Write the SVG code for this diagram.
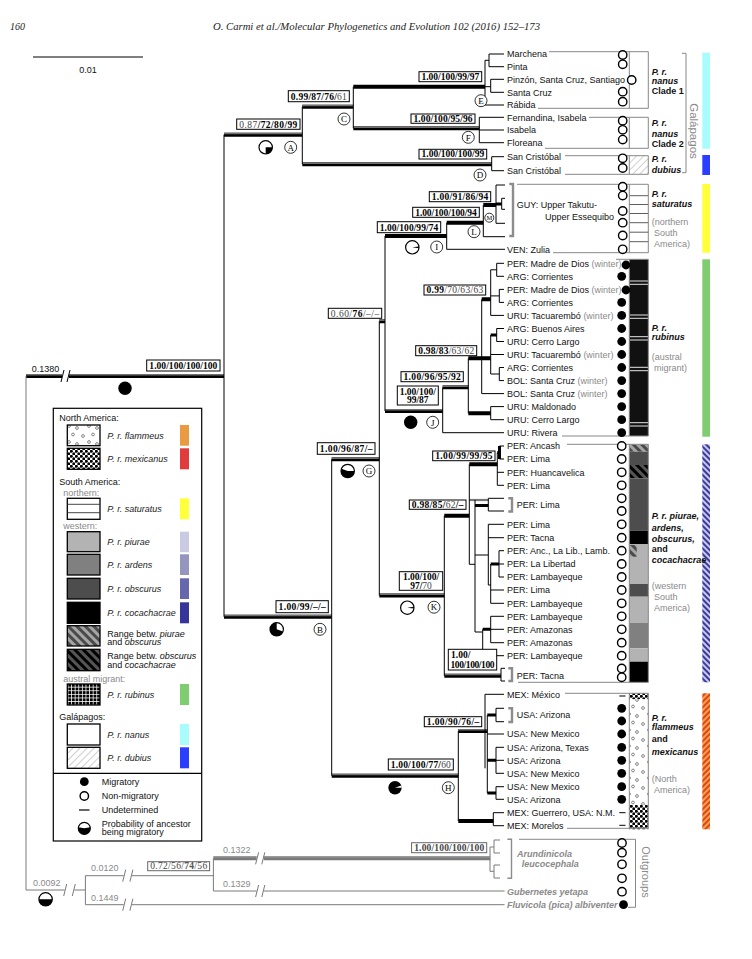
<svg xmlns="http://www.w3.org/2000/svg" width="752" height="959" viewBox="0 0 752 959">
<defs>
<style>
text{font-family:"Liberation Sans",Arial,sans-serif}
.t{font-size:9px;fill:#111}
.g{fill:#8a8a8a}
.sp{font-family:"Liberation Serif","Times New Roman",serif;font-size:9.5px;font-weight:bold;fill:#000}
.n{font-weight:normal;fill:#444}
.bx{fill:#fff;stroke:#000;stroke-width:1}
.bxg{fill:#fff;stroke:#666;stroke-width:1}
.bl{stroke:#000;stroke-width:1;fill:none}
.tk{stroke:#000;stroke-width:4;fill:none}
.tk3{stroke:#000;stroke-width:3;fill:none}
.tg{stroke:#707070;stroke-width:1.6;fill:none}
.gl{stroke:#7a7a7a;stroke-width:1;fill:none}
.gb{stroke:#8c8c8c;stroke-width:2.4;fill:none}
.bxl{stroke:#888;stroke-width:1;fill:none}
.oc{fill:#fff;stroke:#000;stroke-width:1.4}
.lc{fill:#fff;stroke:#000;stroke-width:0.8}
.lt{font-family:"Liberation Serif","Times New Roman",serif;font-size:9px;fill:#000;text-anchor:middle}
.cl{font-size:9px;font-weight:bold;font-style:italic;fill:#111}
.cb{font-size:9px;font-weight:bold;fill:#111}
.li{font-size:9px;font-style:italic;fill:#222}
.sw{stroke:#000;stroke-width:1.3}
.hd{font-family:"Liberation Serif","Times New Roman",serif;font-style:italic;font-size:10px;fill:#222}
</style>
<pattern id="pFlam" width="20" height="16" patternUnits="userSpaceOnUse">
<rect width="20" height="16" fill="#fff"/>
<g fill="none" stroke="#555" stroke-width="0.7"><circle cx="3" cy="4" r="1.4"/><circle cx="13" cy="2.5" r="1.4"/><circle cx="9" cy="10" r="1.4"/><circle cx="17" cy="12" r="1.4"/></g>
</pattern>
<pattern id="pMex" width="5" height="5" patternUnits="userSpaceOnUse">
<rect width="5" height="5" fill="#fff"/><circle cx="1.3" cy="1.3" r="1.5" fill="#000"/><circle cx="3.8" cy="3.8" r="1.5" fill="#000"/>
</pattern>
<pattern id="pRub" width="3.6" height="3.6" patternUnits="userSpaceOnUse">
<rect width="3.6" height="3.6" fill="#000"/><path d="M0 3.2H3.6M3.2 0V3.6" stroke="#fff" stroke-width="0.8"/>
</pattern>
<pattern id="pH1" width="6" height="6" patternUnits="userSpaceOnUse" patternTransform="rotate(-45)">
<rect width="6" height="6" fill="#a5a5a5"/><rect width="3" height="6" fill="#4a4a4a"/>
</pattern>
<pattern id="pH2" width="6" height="6" patternUnits="userSpaceOnUse" patternTransform="rotate(-45)">
<rect width="6" height="6" fill="#555"/><rect width="3" height="6" fill="#000"/>
</pattern>
<pattern id="pDub" width="5" height="5" patternUnits="userSpaceOnUse" patternTransform="rotate(45)">
<rect width="5" height="5" fill="#fff"/><path d="M0 0V5" stroke="#777" stroke-width="0.7"/>
</pattern>
<pattern id="pPur" width="4" height="4" patternUnits="userSpaceOnUse" patternTransform="rotate(-45)">
<rect width="4" height="4" fill="#c8c8ea"/><rect width="2" height="4" fill="#3a3a9e"/>
</pattern>
<pattern id="pOra" width="4" height="4" patternUnits="userSpaceOnUse" patternTransform="rotate(45)">
<rect width="4" height="4" fill="#f4a638"/><rect width="2" height="4" fill="#e2402c"/>
</pattern>
</defs>
<rect width="752" height="959" fill="#fff"/>

<g id="header">
<text class="hd" x="10" y="30">160</text>
<text class="hd" x="213" y="30" textLength="327" lengthAdjust="spacingAndGlyphs">O. Carmi et al./Molecular Phylogenetics and Evolution 102 (2016) 152–173</text>
</g>
<g id="scale">
<path d="M33 57H143" class="bl"/>
<text class="t" x="88" y="73" text-anchor="middle">0.01</text>
</g>

<g id="connectors">
<path class="tk" d="M26 376H62M69 376H224M224 134.7H302.3M302.3 106.7H353.3M353.3 86.7H485M353.3 128.3H479.3M302.3 164.3H491.7M224 616.7H331.7M331.7 459.3H379.3M379.3 321.3H385M385 236H446.7M446.7 222.7H483.3M483.3 205H496M385 411H442.7M442.7 387.3H468.3M468.3 358.3H490.7M481.7 299.3H490.7M468.3 413.3H490.7M379.3 595.5H444.3M444.3 515.7H469.3M469.3 464.3H497.3M444.3 675.7H501M331.7 775.7H458.3M458.3 731H487.3M458.3 821H493.3"/>
<path class="tk3" d="M496 204H501.7M490.7 335H496.7M497.3 452.5H499.5M475 505.5H488.3M490.7 564H499M482.7 629.3H490.7M487.3 715H496M487.3 760.3H496M487.3 793H496M499.5 446V459"/>
<path class="tg" d="M26 374.8H62M69 374.8H224M224 133.5H302.3M302.3 105.5H353.3M353.3 127.1H479.3M302.3 163.1H491.7M224 615.5H331.7M331.7 458.1H379.3M379.3 320.1H385M385 409.8H442.7M442.7 386.1H468.3M379.3 594.3H444.3M444.3 674.5H501M331.7 774.5H458.3M458.3 729.8H487.3"/>
<path d="M469.3 500H488.3" stroke="#777" stroke-width="2.2"/>
<path class="bl" d="M61 382L64 370M67 382L70 370"/>
<path class="bl" d="M224 134.7V616.7M302.3 106.7V164.3M353.3 86.7V128.3M485 60.3V105M489 54V66.7M490.7 79.3V92.3M479.3 117.3V142.7M491.7 156.7V170.7M331.7 459.3V775.7M379.3 321.3V595.5M385 236V411M446.7 222.7V249.3M483.3 205V236.7M496 185V223.3M501.7 198.3V209.3M442.7 387.3V432.7M468.3 358.3V413.3M481.7 299.3V393.6M490.7 269.8V315.4M496.7 263.3V276.3M499.3 289.4V302.4M490.7 335V374M496.7 328.5V341.5M499.3 367.5V380.6M490.7 406.6V419.7M444.3 515.7V675.7M469.3 464.3V564.3M497.3 452.5V485.3M475 500V632M488.3 498.3V511M488.3 524.3V585M490.7 564V603.3M499 550.7V577M482.7 629.3V655.7M490.7 616.3V642.7M501 668.3V681M458.3 731V821M485 694.3V768.3M487.3 715V793M496 708.3V721.7M496 747.3V773.3M496 786.7V799.3M493.3 812.7V825.7"/>
<path class="bl" d="M485 60.3H489M489 54H504M489 66.7H504M485 86.7H490.7M490.7 79.3H504M490.7 92.3H504M485 105H504M479.3 117.3H504M479.3 130H504M479.3 142.7H504M491.7 156.7H504M491.7 170.7H504M496 185H505M501.7 198.3H505M501.7 209.3H505M496 223.3H505M483.3 236.7H505M446.7 249.3H505M490.7 269.8H496.7M496.7 263.3H504M496.7 276.3H504M490.7 295.9H499.3M499.3 289.4H504M499.3 302.4H504M490.7 315.4H504M496.7 328.5H504M496.7 341.5H504M490.7 354.5H504M490.7 374H499.3M499.3 367.5H504M499.3 380.6H504M481.7 393.6H504M490.7 406.6H504M490.7 419.7H504M442.7 432.7H504M499.5 446H504M499.5 459H504M497.3 472.3H504M497.3 485.3H504M488.3 498.3H504M488.3 511H504M469.3 564.3H475M475 555H488.3M488.3 524.3H504M488.3 537.7H504M488.3 585H490.7M499 550.7H504M499 564H504M499 577H504M490.7 590H504M490.7 603.3H504M475 632H482.7M490.7 616.3H504M490.7 629.3H504M490.7 642.7H504M482.7 655.7H504M501 668.3H505M501 681H505M485 694.3H504M496 708.3H504M496 721.7H504M487.3 734H504M496 747.3H504M496 760.3H504M496 773.3H504M496 786.7H504M496 799.3H504M493.3 812.7H504M493.3 825.7H504"/>
<path class="gl" d="M26 376V890M26 890H64.7M74.3 890H85.4M85.4 875.7V904.7M85.4 875.7H123.7M131.9 875.7H213.4M213.4 858.3V891M213.4 891H256.6M263.8 891H504.6M85.4 904.7H123.7M131.9 904.7H504.6M490 847V871.3M490 847H494M494 840V853M494 840H500M494 853H500M490 871.3H494M494 865V878M494 865H500M494 878H500"/>
<path d="M213.4 858.3H256.6M263.8 858.3H490.2" stroke="#7a7a7a" stroke-width="4" fill="none"/>
<path d="M213.4 857H256.6M263.8 857H490.2" stroke="#9a9a9a" stroke-width="1.2" fill="none"/>
<path class="gl" d="M63.7 896L66.7 884M72.3 896L75.3 884M122.7 881.7L125.7 869.7M129.9 881.7L132.9 869.7M122.7 910.7L125.7 898.7M129.9 910.7L132.9 898.7M255.6 864.3L258.6 852.3M261.8 864.3L264.8 852.3M255.6 897L258.6 885M261.8 897L264.8 885"/>
<path class="gb" d="M509.3 184H513V236H509.3M508.3 498.3H512V511.5H508.3M508.3 668.3H512V681H508.3M508.3 708.3H512V722H508.3"/>
<path d="M507.4 839.3H511.5V878.3H507.4" stroke="#8c8c8c" stroke-width="1.4" fill="none"/>
</g>

<g id="columns">
<rect x="629.3" y="51.7" width="19" height="56.6" fill="#fff"/>
<rect x="629.3" y="117.3" width="19" height="31" fill="#fff"/>
<rect x="629.3" y="155.7" width="19" height="18.6" fill="url(#pDub)"/>
<rect x="629.3" y="184.3" width="19" height="68.4" fill="#fff"/>
<path d="M629.3 195.7H648.3M629.3 204.5H648.3M629.3 213.5H648.3M629.3 222.7H648.3M629.3 232.2H648.3M629.3 241.7H648.3" stroke="#333" stroke-width="0.8"/>
<rect x="629.3" y="259.3" width="19" height="176.7" fill="#111"/>
<path d="M630 281H648M630 284.3H648M630 315H648M630 318.3H648M630 336.7H648M630 340H648M630 367.3H648M630 370.7H648M630 422.7H648M630 426H648" stroke="#fff" stroke-width="0.9"/>
<rect x="629.3" y="444.3" width="19" height="7.4" fill="url(#pH1)"/>
<rect x="629.3" y="451.7" width="19" height="13.3" fill="#4d4d4d"/>
<rect x="629.3" y="465" width="19" height="13.3" fill="url(#pH2)"/>
<rect x="629.3" y="478.3" width="19" height="52.4" fill="#4d4d4d"/>
<rect x="629.3" y="530.7" width="19" height="13.3" fill="#000"/>
<rect x="629.3" y="544" width="19" height="40" fill="#b3b3b3"/>
<rect x="629.3" y="545" width="7.4" height="11.7" fill="url(#pH1)"/>
<rect x="629.3" y="584" width="19" height="12.7" fill="#4d4d4d"/>
<rect x="629.3" y="596.7" width="19" height="26" fill="#b3b3b3"/>
<rect x="629.3" y="622.7" width="19" height="25.6" fill="#808080"/>
<rect x="629.3" y="648.3" width="19" height="13.4" fill="#b3b3b3"/>
<rect x="629.3" y="661.7" width="19" height="20.6" fill="#000"/>
<rect x="629.3" y="693.3" width="19" height="6" fill="url(#pMex)"/>
<rect x="629.3" y="699.3" width="19" height="105.7" fill="url(#pFlam)"/>
<rect x="629.3" y="805" width="19" height="24.3" fill="url(#pMex)"/>
<path class="bxl" d="M549 51.7H648.3V108.3H538M629.3 51.7V108.3M589 117.3H648.3V148.3H545M629.3 117.3V148.3M565 155.7H648.3V174.3H565M629.3 155.7V174.3M517 184.3H648.3V252.7H553M629.3 184.3V252.7M616 259.3H648.3V436H562M629.3 259.3V436M567 444.3H648.3V682.3H518M629.3 444.3V682.3M565 693.3H648.3V828.3H567M629.3 693.3V828.3M519 839.3H635.5V907.3H628"/>
<path class="bxl" d="M682 53.3H686V172.7H682"/>
</g>

<g id="bars">
<rect x="702.3" y="52.7" width="7.7" height="96" fill="#a8fcfc"/>
<rect x="702.3" y="155" width="7.7" height="20" fill="#2b3dff"/>
<rect x="702.3" y="184" width="7.7" height="68.7" fill="#ffff3a"/>
<rect x="702.3" y="259.3" width="7.7" height="177.4" fill="#80cc70"/>
<rect x="702.3" y="444.3" width="7.7" height="238" fill="url(#pPur)"/>
<rect x="702.3" y="693.3" width="7.7" height="136" fill="url(#pOra)"/>
</g>

<g id="clade-labels">
<text class="cl" x="651.7" y="74.9">P. r.</text><text class="cl" x="651.7" y="84.2">nanus</text><text class="cb" x="651.7" y="94">Clade 1</text>
<text class="cl" x="651.7" y="126">P. r.</text><text class="cl" x="651.7" y="136.5">nanus</text><text class="cb" x="651.7" y="146.5">Clade 2</text>
<text class="cl" x="651.7" y="162.2">P. r.</text><text class="cl" x="651.7" y="173.2">dubius</text>
<text class="cl" x="651.7" y="197.2">P. r.</text><text class="cl" x="651.7" y="207.2">saturatus</text>
<text class="t g" x="651.7" y="225.2">(northern</text><text class="t g" x="654" y="236">South</text><text class="t g" x="654" y="246.5">America)</text>
<text class="cl" x="651.7" y="330.5">P. r.</text><text class="cl" x="651.7" y="340">rubinus</text>
<text class="t g" x="651.7" y="360">(austral</text><text class="t g" x="654" y="370.5">migrant)</text>
<text class="cl" x="651.7" y="519.2">P. r. piurae,</text><text class="cl" x="651.7" y="530.5">ardens,</text><text class="cl" x="651.7" y="542.2">obscurus,</text><text class="cb" x="651.7" y="552.4">and</text><text class="cl" x="651.7" y="563.4">cocachacrae</text>
<text class="t g" x="651.7" y="589.2">(western</text><text class="t g" x="654" y="600">South</text><text class="t g" x="654" y="611">America)</text>
<text class="cl" x="651.7" y="720.5">P. r.</text><text class="cl" x="651.7" y="730">flammeus</text><text class="cb" x="651.7" y="742.2">and</text><text class="cl" x="651.7" y="755">mexicanus</text>
<text class="t g" x="651.7" y="782.2">(North</text><text class="t g" x="654" y="793.2">America)</text>
<text transform="translate(689.5 131) rotate(90)" text-anchor="middle" font-size="11.5" fill="#8a8a8a">Galápagos</text>
<text transform="translate(642 872) rotate(90)" text-anchor="middle" font-size="11" fill="#8a8a8a">Outgroups</text>
</g>

<g id="tips-galapagos">
<g id="tip-marchena"><text class="t" x="507" y="57.2">Marchena</text><circle class="oc" cx="622.7" cy="55" r="4.2"/></g>
<g id="tip-pinta"><text class="t" x="507" y="69.9">Pinta</text><circle class="oc" cx="622.7" cy="64.3" r="4.2"/></g>
<g id="tip-pinzon"><text class="t" x="507" y="82.5">Pinzón, Santa Cruz, Santiago</text><circle class="oc" cx="631.7" cy="80" r="4.2"/></g>
<g id="tip-santacruz"><text class="t" x="507" y="95.5">Santa Cruz</text><circle class="oc" cx="622.7" cy="91.7" r="4.2"/></g>
<g id="tip-rabida"><text class="t" x="507" y="108.2">Rábida</text><circle class="oc" cx="622.7" cy="101.7" r="4.2"/></g>
<g id="tip-fernandina"><text class="t" x="507" y="120.5">Fernandina, Isabela</text><circle class="oc" cx="622.7" cy="120.7" r="4.2"/></g>
<g id="tip-isabela"><text class="t" x="507" y="133.2">Isabela</text><circle class="oc" cx="622.7" cy="129.8" r="4.2"/></g>
<g id="tip-floreana"><text class="t" x="507" y="145.9">Floreana</text><circle class="oc" cx="622.7" cy="139.6" r="4.2"/></g>
<g id="tip-sancristobal1"><text class="t" x="507" y="159.9">San Cristóbal</text><circle class="oc" cx="622.7" cy="158.3" r="4.2"/></g>
<g id="tip-sancristobal2"><text class="t" x="507" y="173.9">San Cristóbal</text><circle class="oc" cx="622.7" cy="168" r="4.2"/></g>
</g>

<g id="tips-saturatus">
<g id="tip-guy"><text class="t" x="516.7" y="208.2">GUY: Upper Takutu-</text><text class="t" x="545" y="219.5">Upper Essequibo</text>
<circle class="oc" cx="622.7" cy="186.7" r="4.2"/><circle class="oc" cx="622.7" cy="195.6" r="4.2"/><circle class="oc" cx="622.7" cy="211" r="4.2"/><circle class="oc" cx="622.7" cy="222.7" r="4.2"/><circle class="oc" cx="622.7" cy="235.5" r="4.2"/></g>
<g id="tip-ven"><text class="t" x="507" y="252.5">VEN: Zulia</text><circle class="oc" cx="622.7" cy="249.3" r="4.2"/></g>
</g>

<g id="tips-rubinus">
<g id="tip-r1"><text class="t" x="507" y="266.5">PER: Madre de Dios <tspan class="g">(winter)</tspan></text><circle cx="626" cy="265" r="4.4"/></g>
<g id="tip-r2"><text class="t" x="507" y="279.5">ARG: Corrientes</text><circle cx="621.7" cy="276.3" r="4.4"/></g>
<g id="tip-r3"><text class="t" x="507" y="292.6">PER: Madre de Dios <tspan class="g">(winter)</tspan></text><circle cx="626" cy="290" r="4.4"/></g>
<g id="tip-r4"><text class="t" x="507" y="305.6">ARG: Corrientes</text><circle cx="621.7" cy="302.4" r="4.4"/></g>
<g id="tip-r5"><text class="t" x="507" y="318.6">URU: Tacuarembó <tspan class="g">(winter)</tspan></text><circle cx="621.7" cy="315.4" r="4.4"/></g>
<g id="tip-r6"><text class="t" x="507" y="331.7">ARG: Buenos Aires</text><circle cx="621.7" cy="328.5" r="4.4"/></g>
<g id="tip-r7"><text class="t" x="507" y="344.7">URU: Cerro Largo</text><circle cx="621.7" cy="341.5" r="4.4"/></g>
<g id="tip-r8"><text class="t" x="507" y="357.7">URU: Tacuarembó <tspan class="g">(winter)</tspan></text><circle cx="621.7" cy="354.5" r="4.4"/></g>
<g id="tip-r9"><text class="t" x="507" y="370.7">ARG: Corrientes</text><circle cx="621.7" cy="367.5" r="4.4"/></g>
<g id="tip-r10"><text class="t" x="507" y="383.8">BOL: Santa Cruz <tspan class="g">(winter)</tspan></text><circle cx="621.7" cy="380.6" r="4.4"/></g>
<g id="tip-r11"><text class="t" x="507" y="396.8">BOL: Santa Cruz <tspan class="g">(winter)</tspan></text><circle cx="621.7" cy="393.6" r="4.4"/></g>
<g id="tip-r12"><text class="t" x="507" y="409.8">URU: Maldonado</text><circle cx="621.7" cy="406.6" r="4.4"/></g>
<g id="tip-r13"><text class="t" x="507" y="422.9">URU: Cerro Largo</text><circle cx="621.7" cy="419.7" r="4.4"/></g>
<g id="tip-r14"><text class="t" x="507" y="435.9">URU: Rivera</text><circle cx="621.7" cy="432.7" r="4.4"/></g>
</g>

<g id="tips-piurae">
<g id="tip-p1"><text class="t" x="507" y="449.2">PER: Ancash</text><circle class="oc" cx="621.7" cy="446" r="4.2"/></g>
<g id="tip-p2"><text class="t" x="507" y="462.2">PER: Lima</text><circle class="oc" cx="621.7" cy="459" r="4.2"/></g>
<g id="tip-p3"><text class="t" x="507" y="475.5">PER: Huancavelica</text><circle class="oc" cx="621.7" cy="472.3" r="4.2"/></g>
<g id="tip-p4"><text class="t" x="507" y="488.5">PER: Lima</text><circle class="oc" cx="621.7" cy="485.3" r="4.2"/></g>
<g id="tip-p5"><text class="t" x="516.7" y="508.2">PER: Lima</text><circle class="oc" cx="621.7" cy="498.3" r="4.2"/><circle class="oc" cx="621.7" cy="511" r="4.2"/></g>
<g id="tip-p6"><text class="t" x="507" y="527.5">PER: Lima</text><circle class="oc" cx="621.7" cy="524.3" r="4.2"/></g>
<g id="tip-p7"><text class="t" x="507" y="540.9">PER: Tacna</text><circle class="oc" cx="621.7" cy="537.7" r="4.2"/></g>
<g id="tip-p8"><text class="t" x="507" y="553.9">PER: Anc., La Lib., Lamb.</text><circle class="oc" cx="621.7" cy="550.7" r="4.2"/></g>
<g id="tip-p9"><text class="t" x="507" y="567.2">PER: La Libertad</text><circle class="oc" cx="621.7" cy="564" r="4.2"/></g>
<g id="tip-p10"><text class="t" x="507" y="580.2">PER: Lambayeque</text><circle class="oc" cx="621.7" cy="577" r="4.2"/></g>
<g id="tip-p11"><text class="t" x="507" y="593.2">PER: Lima</text><circle class="oc" cx="621.7" cy="590" r="4.2"/></g>
<g id="tip-p12"><text class="t" x="507" y="606.5">PER: Lambayeque</text><circle class="oc" cx="621.7" cy="603.3" r="4.2"/></g>
<g id="tip-p13"><text class="t" x="507" y="619.5">PER: Lambayeque</text><circle class="oc" cx="621.7" cy="616.3" r="4.2"/></g>
<g id="tip-p14"><text class="t" x="507" y="632.5">PER: Amazonas</text><circle class="oc" cx="621.7" cy="629.3" r="4.2"/></g>
<g id="tip-p15"><text class="t" x="507" y="645.9">PER: Amazonas</text><circle class="oc" cx="621.7" cy="642.7" r="4.2"/></g>
<g id="tip-p16"><text class="t" x="507" y="658.9">PER: Lambayeque</text><circle class="oc" cx="621.7" cy="655.7" r="4.2"/></g>
<g id="tip-p17"><text class="t" x="516.7" y="678.9">PER: Tacna</text><circle class="oc" cx="621.7" cy="668.5" r="4.2"/><circle class="oc" cx="621.7" cy="677.3" r="4.2"/></g>
</g>

<g id="tips-flammeus">
<g id="tip-f1"><text class="t" x="507" y="697.5">MEX: México</text><path d="M619.3 696H625.5" class="bl"/></g>
<g id="tip-f2"><text class="t" x="516.7" y="718.2">USA: Arizona</text><circle cx="621.7" cy="708.3" r="4.4"/><circle cx="621.7" cy="721" r="4.4"/></g>
<g id="tip-f3"><text class="t" x="507" y="737.2">USA: New Mexico</text><circle cx="621.7" cy="734" r="4.4"/></g>
<g id="tip-f4"><text class="t" x="507" y="750.5">USA: Arizona, Texas</text><circle cx="621.7" cy="747.3" r="4.4"/></g>
<g id="tip-f5"><text class="t" x="507" y="763.5">USA: Arizona</text><circle cx="621.7" cy="760.3" r="4.4"/></g>
<g id="tip-f6"><text class="t" x="507" y="776.5">USA: New Mexico</text><circle cx="621.7" cy="773.3" r="4.4"/></g>
<g id="tip-f7"><text class="t" x="507" y="789.9">USA: New Mexico</text><circle cx="621.7" cy="786.7" r="4.4"/></g>
<g id="tip-f8"><text class="t" x="507" y="802.5">USA: Arizona</text><circle cx="621.7" cy="799.3" r="4.4"/></g>
<g id="tip-f9"><text class="t" x="507" y="815.9">MEX: Guerrero, USA: N.M.</text><path d="M619.3 812.7H625.5" class="bl"/></g>
<g id="tip-f10"><text class="t" x="507" y="828.9">MEX: Morelos</text><path d="M619.3 825.3H625.5" class="bl"/></g>
</g>

<g id="tips-outgroups">
<g id="tip-arundinicola"><text class="cl" x="517" y="856.5" style="fill:#8a8a8a">Arundinicola</text><text class="cl" x="521.8" y="867.2" style="fill:#8a8a8a">leucocephala</text>
<circle class="oc" cx="622" cy="843" r="4.2"/><circle class="oc" cx="622" cy="852.7" r="4.2"/><circle class="oc" cx="622" cy="864.3" r="4.2"/><circle class="oc" cx="622" cy="878.3" r="4.2"/></g>
<g id="tip-gubernetes"><text class="cl" x="507" y="894.9" style="fill:#8a8a8a">Gubernetes yetapa</text><circle class="oc" cx="622" cy="891.7" r="4.2"/></g>
<g id="tip-fluvicola"><text class="cl" x="507" y="907.9" style="fill:#8a8a8a">Fluvicola (pica) albiventer</text><circle cx="623.5" cy="904.7" r="4.4"/></g>
</g>

<g id="node-root">
<text class="t" x="31.7" y="371.5">0.1380</text>
<rect class="bx" x="146.7" y="360" width="73.3" height="11"/>
<text class="sp" x="183.35" y="368.8" text-anchor="middle" textLength="68" lengthAdjust="spacing">1.00/100/100/100</text>
<circle cx="125" cy="388.3" r="6.7"/>
</g>
<g id="node-A">
<rect class="bx" x="236.7" y="119" width="63.3" height="10.3"/>
<text class="sp" x="268.35" y="127.5" text-anchor="middle" textLength="58" lengthAdjust="spacing"><tspan class="n">0.87</tspan>/72/80/99</text>
<circle class="lc" cx="265.7" cy="147.3" r="6.7" style="stroke-width:1.2"/><path d="M265.7 147.3L272.4 147.3A6.7 6.7 0 0 1 265.7 154Z"/>
<circle class="lc" cx="290.7" cy="147.3" r="6"/><text class="lt" x="290.7" y="150.5">A</text>
</g>
<g id="node-C">
<rect class="bx" x="288.3" y="90.7" width="61" height="11"/>
<text class="sp" x="318.8" y="99.5" text-anchor="middle" textLength="56" lengthAdjust="spacing">0.99/87/76/<tspan class="n">61</tspan></text>
<circle class="lc" cx="344" cy="119" r="6"/><text class="lt" x="344" y="122.2">C</text>
</g>
<g id="node-E">
<rect class="bx" x="419" y="71.7" width="62.7" height="10"/>
<text class="sp" x="450.35" y="80" text-anchor="middle" textLength="57.7" lengthAdjust="spacing">1.00/100/99/97</text>
<circle class="lc" cx="481" cy="100.7" r="6"/><text class="lt" x="481" y="103.9">E</text>
</g>
<g id="node-F">
<rect class="bx" x="411" y="114" width="64" height="9.3"/>
<text class="sp" x="443" y="122" text-anchor="middle" textLength="59" lengthAdjust="spacing">1.00/100/95/96</text>
<circle class="lc" cx="468.3" cy="137.3" r="6"/><text class="lt" x="468.3" y="140.5">F</text>
</g>
<g id="node-D">
<rect class="bx" x="419" y="149.3" width="67.7" height="9.7"/>
<text class="sp" x="452.85" y="157.4" text-anchor="middle" textLength="62.7" lengthAdjust="spacing">1.00/100/100/99</text>
<circle class="lc" cx="480" cy="175" r="6"/><text class="lt" x="480" y="178.2">D</text>
</g>
<g id="node-M">
<rect class="bx" x="429.3" y="191.7" width="61.4" height="10"/>
<text class="sp" x="460" y="200" text-anchor="middle" textLength="56.4" lengthAdjust="spacing">1.00/91/86/94</text>
<circle class="lc" cx="489.3" cy="217.7" r="4.5"/><text class="lt" x="489.3" y="220" style="font-size:6.5px">M</text>
</g>
<g id="node-L">
<rect class="bx" x="412.7" y="207.3" width="66.6" height="10"/>
<text class="sp" x="446" y="215.6" text-anchor="middle" textLength="61.6" lengthAdjust="spacing">1.00/100/100/94</text>
<circle class="lc" cx="474" cy="231.7" r="6"/><text class="lt" x="474" y="234.9">L</text>
</g>
<g id="node-I">
<rect class="bx" x="377.3" y="221.7" width="63.4" height="11"/>
<text class="sp" x="409" y="230.5" text-anchor="middle" textLength="58.4" lengthAdjust="spacing">1.00/100/99/74</text>
<circle class="lc" cx="412.3" cy="247.3" r="6.7" style="stroke-width:1.2"/><path d="M412.3 247.3L418.9 246.4A6.7 6.7 0 0 1 418.9 248.2Z"/>
<circle class="lc" cx="436.7" cy="247" r="6"/><text class="lt" x="436.7" y="250.2">I</text>
</g>
<g id="node-060">
<rect class="bx" x="328.3" y="308.3" width="53.4" height="10"/>
<text class="sp" x="355" y="316.6" text-anchor="middle" textLength="48.4" lengthAdjust="spacing"><tspan class="n">0.60/</tspan>76<tspan class="n">/–/–</tspan></text>
</g>
<g id="node-rub1">
<rect class="bx" x="424" y="285" width="61.7" height="10"/>
<text class="sp" x="454.85" y="293.3" text-anchor="middle" textLength="56.7" lengthAdjust="spacing">0.99<tspan class="n">/70/63/63</tspan></text>
</g>
<g id="node-rub2">
<rect class="bx" x="415.7" y="345.7" width="61" height="10"/>
<text class="sp" x="446.2" y="354" text-anchor="middle" textLength="56" lengthAdjust="spacing">0.98/83<tspan class="n">/63/62</tspan></text>
</g>
<g id="node-rub3">
<rect class="bx" x="401" y="371.7" width="62.3" height="10"/>
<text class="sp" x="432.15" y="380" text-anchor="middle" textLength="57.3" lengthAdjust="spacing">1.00/96/95/92</text>
</g>
<g id="node-J">
<rect class="bx" x="397.3" y="386" width="41" height="19"/>
<text class="sp" x="417.8" y="394.6" text-anchor="middle">1.00/100/</text>
<text class="sp" x="417.8" y="403.2" text-anchor="middle">99/87</text>
<circle cx="410.7" cy="422.3" r="6.7"/>
<circle class="lc" cx="432.7" cy="422.3" r="6"/><text class="lt" x="432.7" y="425.5">J</text>
</g>
<g id="node-G">
<rect class="bx" x="317.3" y="442.7" width="57.7" height="11.6"/>
<text class="sp" x="346.15" y="451.8" text-anchor="middle" textLength="52.7" lengthAdjust="spacing">1.00/96/87/–</text>
<circle class="lc" cx="347.7" cy="471" r="6.7" style="stroke-width:1.2"/><path d="M347.7 471L354.4 471A6.7 6.7 0 1 1 341.4 468.7Z"/>
<circle class="lc" cx="369" cy="471" r="6"/><text class="lt" x="369" y="474.2">G</text>
</g>
<g id="node-pi1">
<rect class="bx" x="432.7" y="451" width="62.3" height="9.7"/>
<text class="sp" x="463.85" y="459" text-anchor="middle" textLength="57.3" lengthAdjust="spacing">1.00/99/99/95</text>
</g>
<g id="node-pi2">
<rect class="bx" x="409.3" y="500" width="56.7" height="9.3"/>
<text class="sp" x="437.65" y="508" text-anchor="middle" textLength="51.7" lengthAdjust="spacing">0.98/85/<tspan class="n">62</tspan>/–</text>
</g>
<g id="node-K">
<rect class="bx" x="399.3" y="571.7" width="43.4" height="18.6"/>
<text class="sp" x="421" y="580" text-anchor="middle">1.00/100/</text>
<text class="sp" x="421" y="588.8" text-anchor="middle">97/<tspan class="n">70</tspan></text>
<circle class="lc" cx="407.3" cy="607.7" r="6.7" style="stroke-width:1.2"/><path d="M407.3 607.7L413.9 606.8A6.7 6.7 0 0 1 413.9 608.6Z"/>
<circle class="lc" cx="434" cy="607.2" r="6"/><text class="lt" x="434" y="610.4">K</text>
</g>
<g id="node-pi3">
<rect class="bx" x="448.3" y="649.3" width="48.4" height="20.7"/>
<text class="sp" x="451" y="658">1.00/</text>
<text class="sp" x="472.5" y="668" text-anchor="middle" textLength="44" lengthAdjust="spacing">100/100/100</text>
</g>
<g id="node-B">
<rect class="bx" x="276" y="600.7" width="52.3" height="12"/>
<text class="sp" x="302.15" y="610" text-anchor="middle" textLength="47.3" lengthAdjust="spacing">1.00/99/–/–</text>
<circle class="lc" cx="276.7" cy="629.3" r="6.7" style="stroke-width:1.2"/><path d="M276.7 629.3L283 631.6A6.7 6.7 0 1 1 276.7 622.6Z"/>
<circle class="lc" cx="320" cy="629.3" r="6"/><text class="lt" x="320" y="632.5">B</text>
</g>
<g id="node-fl1">
<rect class="bx" x="424.3" y="716.7" width="57.4" height="10"/>
<text class="sp" x="453" y="725" text-anchor="middle" textLength="52.4" lengthAdjust="spacing">1.00/90/76/–</text>
</g>
<g id="node-H">
<rect class="bx" x="388.3" y="759" width="65" height="11"/>
<text class="sp" x="420.8" y="768" text-anchor="middle" textLength="60" lengthAdjust="spacing">1.00/100/77/<tspan class="n">60</tspan></text>
<circle cx="395" cy="787.7" r="6.7"/><path d="M395 787.7L401.7 787.7A6.7 6.7 0 0 0 401.3 785.4Z" fill="#fff"/>
<circle class="lc" cx="448.3" cy="787.7" r="6"/><text class="lt" x="448.3" y="790.9">H</text>
</g>
<g id="node-outgroup">
<text class="t g" x="33" y="886">0.0092</text>
<text class="t g" x="91" y="871">0.0120</text>
<text class="t g" x="91" y="901">0.1449</text>
<text class="t g" x="223" y="853">0.1322</text>
<text class="t g" x="223" y="887">0.1329</text>
<rect class="bxg" x="147.7" y="861.7" width="61.9" height="9"/>
<text class="sp" x="178.65" y="869" text-anchor="middle" textLength="57" lengthAdjust="spacing" style="fill:#555"><tspan class="n">0.72/56/</tspan>74<tspan class="n">/56</tspan></text>
<circle class="lc" cx="45.6" cy="899.3" r="6.7" style="stroke-width:1.2"/><path d="M38.9 899.3A6.7 6.7 0 0 0 52.3 899.3Z"/>
</g>
<g id="node-arundinicola">
<rect class="bxg" x="411.6" y="842.7" width="75.1" height="10"/>
<text class="sp" x="449.15" y="851" text-anchor="middle" textLength="70" lengthAdjust="spacing" style="fill:#444">1.00/100/100/100</text>
</g>

<g id="legend">
<rect x="53.3" y="408.3" width="148.4" height="432.7" fill="#fff" stroke="#000" stroke-width="1.2"/>
<path d="M53.3 773.3H201.7" stroke="#000" stroke-width="1.2"/>
<text class="t" x="59.3" y="421">North America:</text>
<rect class="sw" x="67.3" y="425" width="32.7" height="20.7" fill="url(#pFlam)"/><text class="li" x="107.3" y="438.8">P. r. flammeus</text><rect x="180" y="425" width="9" height="20.7" fill="#ea9a40"/>
<rect class="sw" x="67.3" y="448.3" width="32.7" height="21" fill="url(#pMex)"/><text class="li" x="107.3" y="462">P. r. mexicanus</text><rect x="180" y="448.3" width="9" height="21" fill="#e03c3c"/>
<text class="t" x="59.3" y="485">South America:</text>
<text class="t g" x="63.3" y="495.5">northern:</text>
<rect class="sw" x="67.3" y="498.3" width="32.7" height="21" fill="#fff"/><path d="M67.3 504.3H100M67.3 512.7H100" stroke="#333" stroke-width="0.9"/><text class="li" x="107.3" y="512">P. r. saturatus</text><rect x="180" y="498.3" width="9" height="21" fill="#ffff3a"/>
<text class="t g" x="63.3" y="529">western:</text>
<rect class="sw" x="67.3" y="531.7" width="32.7" height="20" fill="#b3b3b3"/><text class="li" x="107.3" y="545">P. r. piurae</text><rect x="180" y="531.7" width="9" height="20.5" fill="#cacae2"/>
<rect class="sw" x="67.3" y="554.3" width="32.7" height="20.7" fill="#808080"/><text class="li" x="107.3" y="568">P. r. ardens</text><rect x="180" y="554.3" width="9" height="20.7" fill="#9595be"/>
<rect class="sw" x="67.3" y="578.3" width="32.7" height="20.7" fill="#4d4d4d"/><text class="li" x="107.3" y="592">P. r. obscurus</text><rect x="180" y="578.3" width="9" height="20.7" fill="#6767ae"/>
<rect class="sw" x="67.3" y="602.3" width="32.7" height="21" fill="#000"/><text class="li" x="107.3" y="616">P. r. cocachacrae</text><rect x="180" y="602.3" width="9" height="21" fill="#36369a"/>
<rect class="sw" x="67.3" y="625.7" width="32.7" height="20.3" fill="url(#pH1)"/><text class="t" x="107.3" y="636.5">Range betw. <tspan font-style="italic">piurae</tspan></text><text class="t" x="107.3" y="644.8">and <tspan font-style="italic">obscurus</tspan></text>
<rect class="sw" x="67.3" y="649.3" width="32.7" height="21.4" fill="url(#pH2)"/><text class="t" x="107.3" y="659">Range betw. <tspan font-style="italic">obscurus</tspan></text><text class="t" x="107.3" y="667.5">and <tspan font-style="italic">cocachacrae</tspan></text>
<text class="t g" x="63.3" y="681.5">austral migrant:</text>
<rect class="sw" x="67.3" y="684" width="32.7" height="21" fill="url(#pRub)"/><text class="li" x="107.3" y="698">P. r. rubinus</text><rect x="180" y="684" width="9" height="21" fill="#80cc70"/>
<text class="t" x="59.3" y="720">Galápagos:</text>
<rect class="sw" x="67.3" y="724" width="32.7" height="21" fill="#fff"/><text class="li" x="107.3" y="738">P. r. nanus</text><rect x="180" y="724" width="9" height="21" fill="#a8fcfc"/>
<rect class="sw" x="67.3" y="747.3" width="32.7" height="21" fill="url(#pDub)"/><text class="li" x="107.3" y="761">P. r. dubius</text><rect x="180" y="747.3" width="9" height="21" fill="#2b3dff"/>
<circle cx="84.3" cy="781.7" r="4.4"/><text class="t" x="101.7" y="785">Migratory</text>
<circle class="oc" cx="84.3" cy="796" r="4.2"/><text class="t" x="101.7" y="799.3">Non-migratory</text>
<path d="M79 810H89.5" stroke="#000" stroke-width="1.2"/><text class="t" x="101.7" y="813.3">Undetermined</text>
<circle class="lc" cx="84.3" cy="828.3" r="6" style="stroke-width:1.2"/><path d="M84.3 828.3L90.2 827.3A6 6 0 1 1 78.4 827.3Z"/>
<text class="t" x="101.7" y="826.5">Probability of ancestor</text><text class="t" x="101.7" y="835">being migratory</text>
</g>
</svg>
